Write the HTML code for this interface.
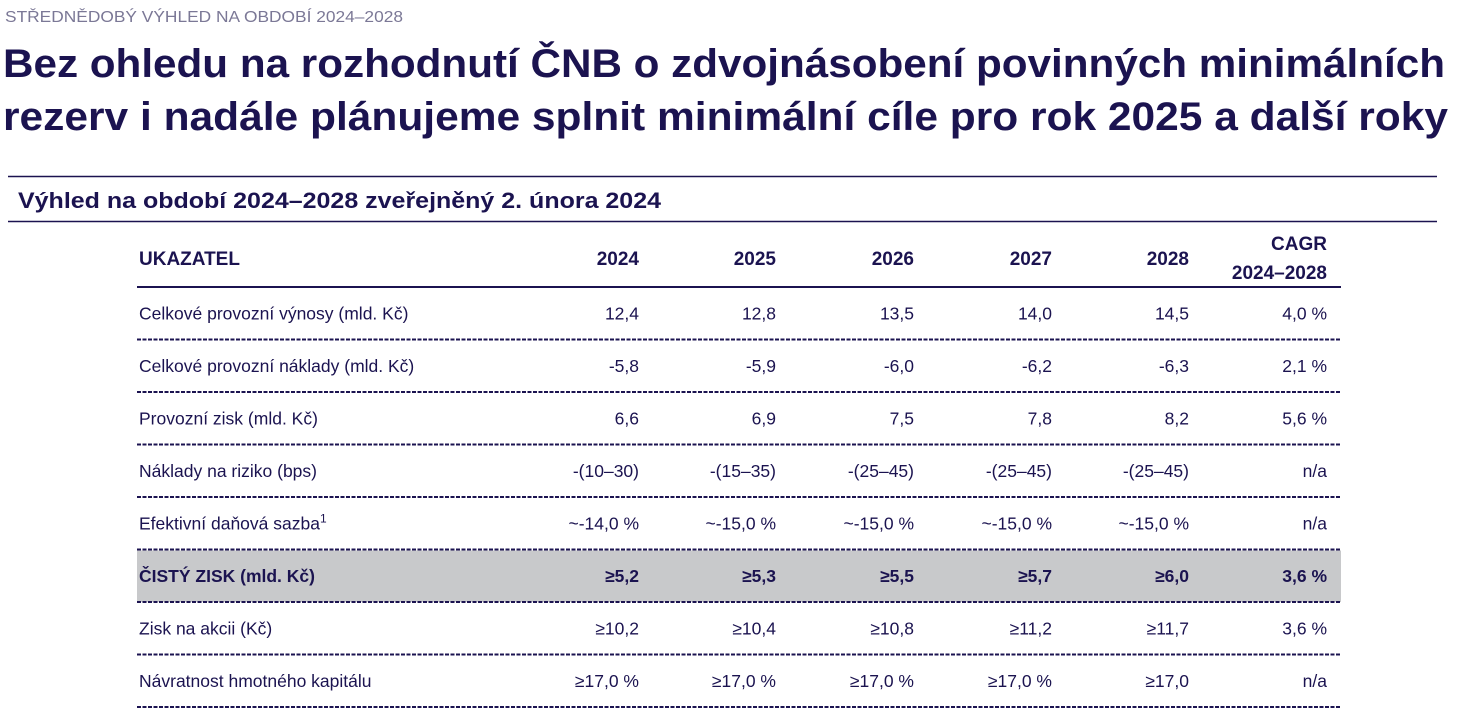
<!DOCTYPE html>
<html><head><meta charset="utf-8">
<style>
body{margin:0;background:#fff;width:1482px;height:712px;overflow:hidden;font-family:"Liberation Sans",sans-serif}
svg text{font-family:"Liberation Sans",sans-serif;fill:#1b1350}
</style></head><body>
<svg width="1482" height="712">
<text x="5" y="22" font-size="16" textLength="398" lengthAdjust="spacingAndGlyphs" style="fill:#7b7896">STŘEDNĚDOBÝ VÝHLED NA OBDOBÍ 2024–2028</text>
<text x="3" y="77" font-size="40" font-weight="bold" textLength="1442" lengthAdjust="spacingAndGlyphs">Bez ohledu na rozhodnutí ČNB o zdvojnásobení povinných minimálních</text>
<text x="3" y="130" font-size="40" font-weight="bold" textLength="1445" lengthAdjust="spacingAndGlyphs">rezerv i nadále plánujeme splnit minimální cíle pro rok 2025 a další roky</text>
<line x1="8" y1="176.5" x2="1437" y2="176.5" stroke="#1b1350" stroke-width="1.5"/>
<text x="18" y="208" font-size="22" font-weight="bold" textLength="643" lengthAdjust="spacingAndGlyphs">Výhled na období 2024–2028 zveřejněný 2. února 2024</text>
<line x1="8" y1="221.5" x2="1437" y2="221.5" stroke="#1b1350" stroke-width="1.5"/>
<g id="tbl"></g>
</svg>
<script>
const years=["2024","2025","2026","2027","2028"];
const labels=["Celkové provozní výnosy (mld. Kč)","Celkové provozní náklady (mld. Kč)","Provozní zisk (mld. Kč)","Náklady na riziko (bps)","Efektivní daňová sazba","ČISTÝ ZISK (mld. Kč)","Zisk na akcii (Kč)","Návratnost hmotného kapitálu"];
const v2024=["12,4","-5,8","6,6","-(10–30)","~-14,0 %","≥5,2","≥10,2","≥17,0 %"];
const v2025=["12,8","-5,9","6,9","-(15–35)","~-15,0 %","≥5,3","≥10,4","≥17,0 %"];
const v2026=["13,5","-6,0","7,5","-(25–45)","~-15,0 %","≥5,5","≥10,8","≥17,0 %"];
const v2027=["14,0","-6,2","7,8","-(25–45)","~-15,0 %","≥5,7","≥11,2","≥17,0 %"];
const v2028=["14,5","-6,3","8,2","-(25–45)","~-15,0 %","≥6,0","≥11,7","≥17,0"];
const cagr=["4,0 %","2,1 %","5,6 %","n/a","n/a","3,6 %","3,6 %","n/a"];
const NS="http://www.w3.org/2000/svg",g=document.getElementById("tbl");
const colX=[639,776,914,1052,1189,1327],L=137,R=1341,top0=287,rh=52.5;
function t(x,y,s,anchor,bold,name,size){const e=document.createElementNS(NS,"text");e.setAttribute("x",x);e.setAttribute("y",y);e.setAttribute("font-size",size||17.5);if(anchor)e.setAttribute("text-anchor",anchor);if(bold)e.setAttribute("font-weight","bold");e.textContent=s;


g.appendChild(e);return e;}
t(L+2,265,"UKAZATEL","",true,"header-indicator",19);
years.forEach((y,i)=>t(colX[i],265,y,"end",true,"header-year",19));
t(1327,250,"CAGR","end",true,"header-cagr",19);t(1327,279,"2024–2028","end",true,"header-cagr-range",19);
const hl=document.createElementNS(NS,"line");hl.setAttribute("x1",L);hl.setAttribute("x2",R);hl.setAttribute("y1",top0);hl.setAttribute("y2",top0);hl.setAttribute("stroke","#1b1350");hl.setAttribute("stroke-width","2");


g.appendChild(hl);
const cols=[v2024,v2025,v2026,v2027,v2028,cagr];
labels.forEach((lab,r)=>{const y0=top0+r*rh,b=r===5;
 if(b){const bg=document.createElementNS(NS,"rect");bg.setAttribute("x",L);bg.setAttribute("y",y0+1);bg.setAttribute("width",R-L);bg.setAttribute("height",rh-1);bg.setAttribute("fill","#c8c9cb");
 
 
 g.appendChild(bg);}
 const ty=y0+rh/2+6;
 const lt=t(L+2,ty,lab,"",b,"row-label");
 if(r===4){const s=document.createElementNS(NS,"tspan");s.setAttribute("dy","-7");s.setAttribute("font-size","12");s.textContent="1";lt.appendChild(s);}
 cols.forEach((c,i)=>t(colX[i],ty,c[r],"end",b,"cell-value"));
 const ln=document.createElementNS(NS,"line");ln.setAttribute("x1",L);ln.setAttribute("x2",R);ln.setAttribute("y1",y0+rh);ln.setAttribute("y2",y0+rh);ln.setAttribute("stroke","#1b1350");ln.setAttribute("stroke-width","2");ln.setAttribute("stroke-dasharray","4 1.5");
 
 
 g.appendChild(ln);
});
</script>
</body></html>
